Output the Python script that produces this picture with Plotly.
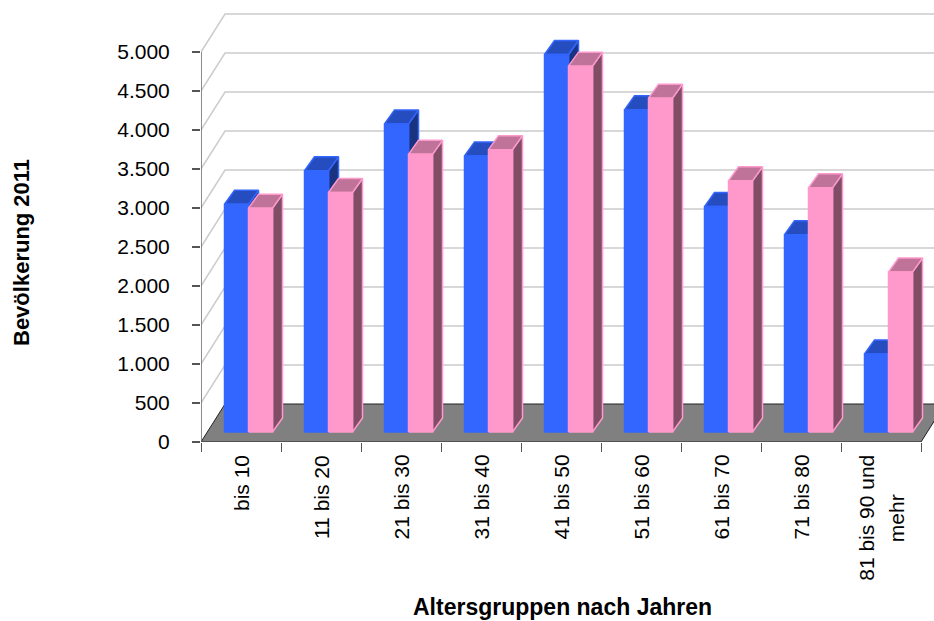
import plotly.graph_objects as go

# Population by age group, 2011
categories = ["bis 10", "11 bis 20", "21 bis 30", "31 bis 40", "41 bis 50",
              "51 bis 60", "61 bis 70", "71 bis 80", "81 bis 90 und|mehr"]
series_blue = [2920, 3350, 3950, 3540, 4840, 4130, 2890, 2530, 1000]
series_pink = [2870, 3070, 3560, 3620, 4690, 4280, 3220, 3130, 2050]
value_ticks = [0, 500, 1000, 1500, 2000, 2500, 3000, 3500, 4000, 4500, 5000]
y_title = "Bevölkerung 2011"
x_title = "Altersgruppen nach Jahren"

# Oblique projection of the chart box, in axis units
PX_X, PX_Y = 80.0, 0.078
LEFT, TOP, BOTTOM = 201, 5, 442
X0 = -0.5
X_END = X0 + (934 - LEFT) / PX_X
Y_END = (BOTTOM - TOP) / PX_Y
BOX_DX, BOX_DY = 24 / PX_X, 38 / PX_Y
BAR_DX, BAR_DY = 10 / PX_X, 14 / PX_Y
BAR_W = 24 / PX_X
BAR_BASE = 10 / PX_Y
BAR_SHIFT = 7.5 / PX_X


def poly_trace(xs, ys, fill, line, width=1.5):
    return go.Scatter(x=xs, y=ys, mode="lines", fill="toself", fillcolor=fill,
                      line=dict(color=line, width=width), hoverinfo="skip",
                      cliponaxis=False, showlegend=False)


def line_trace(xs, ys, color, width):
    return go.Scatter(x=xs, y=ys, mode="lines", line=dict(color=color, width=width),
                      hoverinfo="skip", cliponaxis=False, showlegend=False)


def bar_faces(values, offset):
    """Return front, top and side outlines for one series, None-separated."""
    front, top, side = ([], []), ([], []), ([], [])
    for i, v in enumerate(values):
        x0 = i + BAR_SHIFT + offset
        x1 = x0 + BAR_W
        y0, y1 = BAR_BASE, BAR_BASE + v
        for face, px, py in (
            (front, [x0, x1, x1, x0, x0], [y0, y0, y1, y1, y0]),
            (top, [x0, x1, x1 + BAR_DX, x0 + BAR_DX, x0],
             [y1, y1, y1 + BAR_DY, y1 + BAR_DY, y1]),
            (side, [x1, x1 + BAR_DX, x1 + BAR_DX, x1, x1],
             [y0, y0 + BAR_DY, y1 + BAR_DY, y1, y0]),
        ):
            face[0].extend(px + [None])
            face[1].extend(py + [None])
    return front, top, side


fig = go.Figure()

# Back wall grid with its slanted side-wall segments
grid_x, grid_y = [], []
for v in value_ticks[1:]:
    grid_x += [X0, X0 + BOX_DX, X_END, None]
    grid_y += [v, v + BOX_DY, v + BOX_DY, None]
fig.add_trace(line_trace(grid_x, grid_y, "#cccccc", 1.5))

# Floor
fig.add_trace(poly_trace([X0, X0 + 9, X0 + 9 + BOX_DX, X0 + BOX_DX, X0],
                         [0, 0, BOX_DY, BOX_DY, 0], "#808080", "#222222", 1))

# Value axis line
fig.add_trace(line_trace([X0, X0], [0, 5000], "#666666", 1.5))

# Bars: blue first so the pink series sits in front of it
for values, offset, shades in (
    (series_blue, -BAR_W, ("#3366ff", "#264dbf", "#1a3380", "#3366ff")),
    (series_pink, 0.0, ("#ff99cc", "#bf7399", "#804d66", "#ff99cc")),
):
    front, top, side = bar_faces(values, offset)
    fig.add_trace(poly_trace(side[0], side[1], shades[2], shades[3]))
    fig.add_trace(poly_trace(top[0], top[1], shades[1], shades[3]))
    fig.add_trace(poly_trace(front[0], front[1], shades[0], shades[3]))

# Category labels; a "|" starts a further line set beside the first
annotations = []
LABEL_FONT = dict(family="Liberation Sans, Arial", size=21, color="#000000")
for i, label in enumerate(categories):
    lines = label.split("|")
    if len(lines) == 1:
        annotations.append(dict(x=i, y=0, xref="x", yref="y", text=label, textangle=-90,
                                showarrow=False, xanchor="center", yanchor="top",
                                yshift=-11, font=LABEL_FONT))
    else:
        annotations.append(dict(x=i - 0.19, y=0, xref="x", yref="y", text=lines[0], textangle=-90,
                                showarrow=False, xanchor="center", yanchor="top",
                                yshift=-11, font=LABEL_FONT))
        annotations.append(dict(x=i + 0.19, y=0, xref="x", yref="y", text=lines[1], textangle=-90,
                                showarrow=False, xanchor="center", yanchor="middle",
                                yshift=-76, font=LABEL_FONT))

# Axis titles
annotations.append(dict(x=(22 - LEFT) / (934 - LEFT), y=(BOTTOM - 253) / (BOTTOM - TOP),
                        xref="paper", yref="paper", text=f"<b>{y_title}</b>", textangle=-90,
                        showarrow=False, xanchor="center", yanchor="middle",
                        font=dict(family="Liberation Sans, Arial", size=22, color="#000000")))
annotations.append(dict(x=(562 - LEFT) / (934 - LEFT), y=(BOTTOM - 607) / (BOTTOM - TOP),
                        xref="paper", yref="paper", text=f"<b>{x_title}</b>",
                        showarrow=False, xanchor="center", yanchor="middle",
                        font=dict(family="Liberation Sans, Arial", size=23, color="#000000")))

fig.update_layout(
    width=934, height=621,
    margin=dict(l=LEFT, r=0, t=TOP, b=621 - BOTTOM, pad=0),
    plot_bgcolor="#ffffff", paper_bgcolor="#ffffff",
    separators=",.",
    showlegend=False,
    font=dict(family="Liberation Sans, Arial", size=21, color="#000000"),
    annotations=annotations,
    xaxis=dict(range=[X0, X_END], showgrid=False, zeroline=False, showline=False,
               tickmode="array", tickvals=[],
               minor=dict(ticks="outside", ticklen=9, tickcolor="#555555", tickwidth=1,
                          tickmode="array", tickvals=[X0 + k for k in range(10)], showgrid=False)),
    yaxis=dict(range=[0, Y_END], showgrid=False, zeroline=False, showline=False,
               tickmode="array", tickvals=value_ticks, tickformat=",d",
               ticks="outside", ticklen=8, tickcolor="#555555", tickwidth=1.5,
               ticklabelstandoff=18, tickfont=dict(size=21)),
)

fig.write_html("out.html")
